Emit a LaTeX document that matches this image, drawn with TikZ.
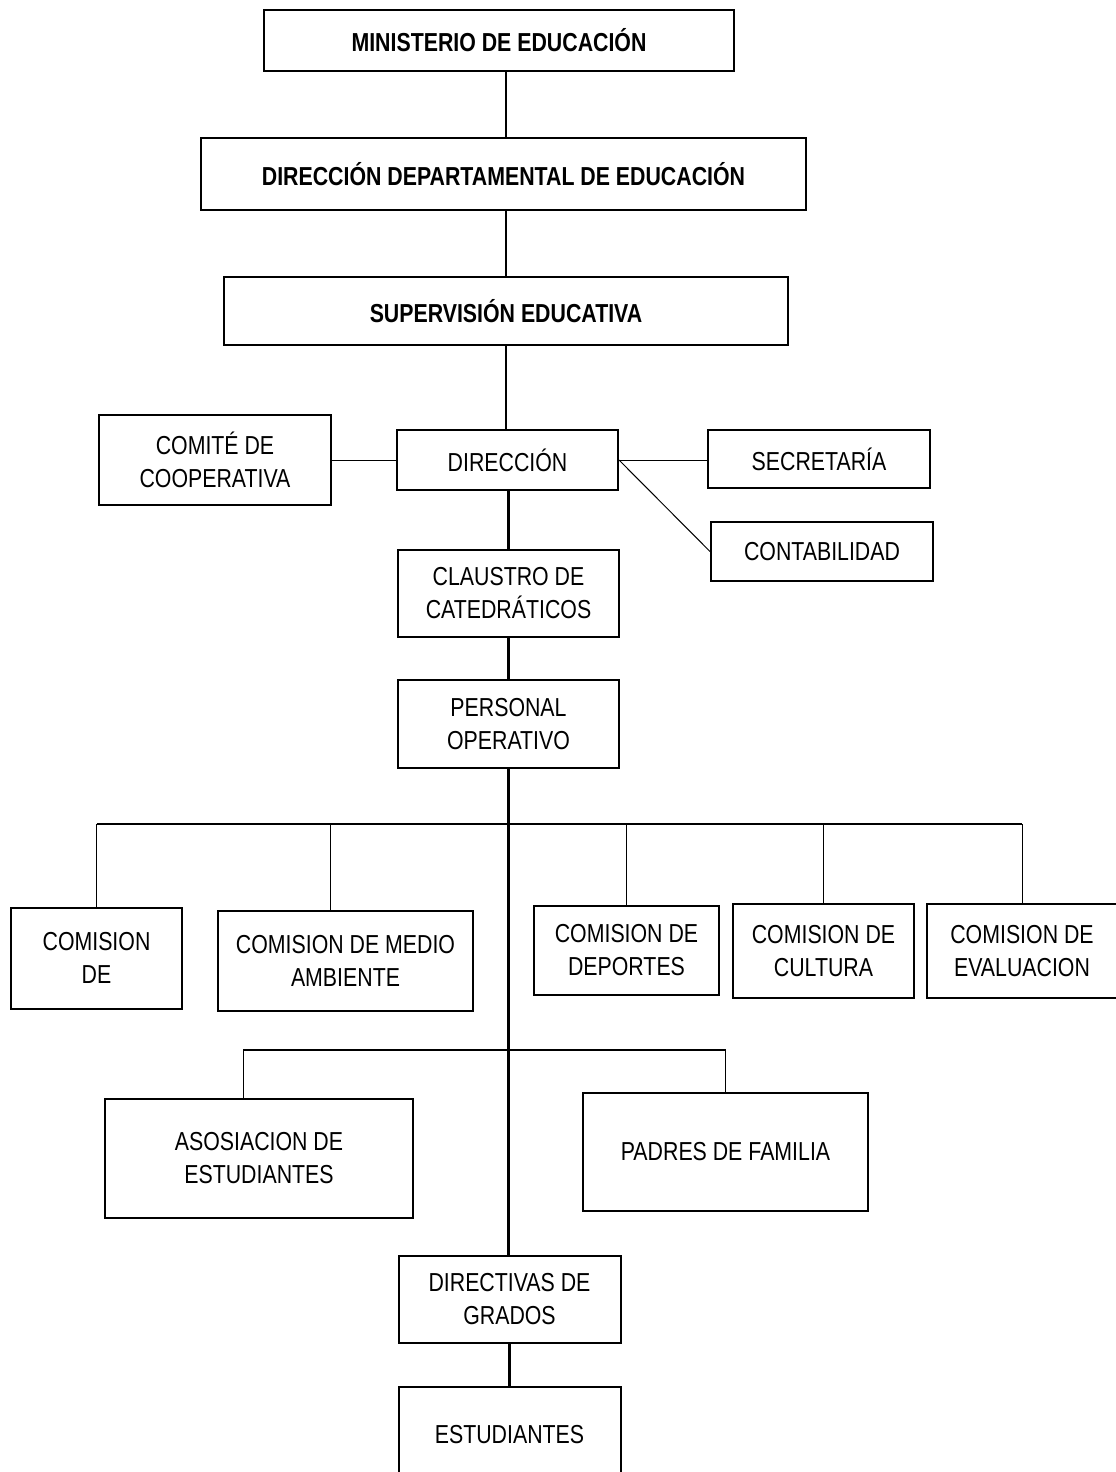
\documentclass[tikz,border=0pt]{standalone}
\usepackage{fontspec}
\setmainfont{Liberation Sans}[FakeStretch=0.82]
\usepackage{tikz}
\usetikzlibrary{positioning,calc}

\begin{document}
\begin{tikzpicture}[x=1pt,y=-1pt]
	%defines
	\tikzstyle{mainOffice} = [rectangle, draw=black, line width=2pt, inner sep=0pt, align=center, font=\fontsize{26}{32}\selectfont\bfseries]
	\tikzstyle{office} = [rectangle, draw=black, line width=2pt, inner sep=0pt, align=center, font=\fontsize{26}{33}\selectfont]
	\tikzstyle{commission} = [rectangle, draw=black, line width=2pt, inner sep=0pt, align=center, font=\fontsize{26}{33}\selectfont]
	\tikzstyle{trunkLine} = [line width=2.8pt]
	\tikzstyle{branchLine} = [line width=1pt]
	\useasboundingbox (0,0) rectangle (1116,1472);
	%chart
	\coordinate (trunk) at (506,0);
	\node (ministerio) [mainOffice, minimum width=470pt, minimum height=61pt] at (499,40.5) {MINISTERIO DE EDUCACIÓN};
	\node (dirDep) [mainOffice, minimum width=605pt, minimum height=72pt] at (503.5,174) {DIRECCIÓN DEPARTAMENTAL DE EDUCACIÓN};
	\node (supervision) [mainOffice, minimum width=564pt, minimum height=68pt] at (506,311) {SUPERVISIÓN EDUCATIVA};
	\node (comite) [office, minimum width=232pt, minimum height=90pt] at (215,460) {COMITÉ DE\\COOPERATIVA};
	\node (direccion) [office, minimum width=221pt, minimum height=60pt] at (507.5,460) {DIRECCIÓN};
	\node (secretaria) [office, minimum width=222pt, minimum height=58pt] at (819,459) {SECRETARÍA};
	\node (contabilidad) [office, minimum width=222pt, minimum height=59pt] at (822,551.5) {CONTABILIDAD};
	\node (claustro) [office, minimum width=221pt, minimum height=87pt] at (508.5,593.5) {CLAUSTRO DE\\CATEDRÁTICOS};
	\node (personal) [office, minimum width=221pt, minimum height=88pt] at (508.5,724) {PERSONAL\\OPERATIVO};
	\coordinate (busComisiones) at (507,824);
	\node (comDe) [commission, minimum width=171pt, minimum height=101pt] at (96.5,958) {COMISION\\DE};
	\node (comMedio) [commission, minimum width=255pt, minimum height=100pt] at (345.5,961) {COMISION DE MEDIO\\AMBIENTE};
	\node (comDeportes) [commission, minimum width=185pt, minimum height=89pt] at (626.5,950.5) {COMISION DE\\DEPORTES};
	\node (comCultura) [commission, minimum width=181pt, minimum height=94pt] at (823.5,951) {COMISION DE\\CULTURA};
	\node (comEvaluacion) [commission, minimum width=190pt, minimum height=94pt] at (1022,951) {COMISION DE\\EVALUACION};
	\coordinate (busPadres) at (507,1050);
	\node (asociacion) [office, minimum width=308pt, minimum height=119pt] at (259,1158.5) {ASOSIACION DE\\ESTUDIANTES};
	\node (padres) [office, minimum width=285pt, minimum height=118pt] at (725.5,1152) {PADRES DE FAMILIA};
	\node (directivas) [office, minimum width=222pt, minimum height=87pt] at (509.5,1299.5) {DIRECTIVAS DE\\GRADOS};
	\node (estudiantes) [office, minimum width=222pt, minimum height=96pt] at (509.5,1435) {ESTUDIANTES};
	% main line
	\draw [trunkLine] (ministerio.south -| trunk) -- (dirDep.north -| trunk);
	\draw [trunkLine] (dirDep.south -| trunk) -- (supervision.north -| trunk);
	\draw [trunkLine] (supervision.south -| trunk) -- (direccion.north -| trunk);
	\draw [trunkLine] (direccion.south -| claustro.north) -- (claustro.north);
	\draw [trunkLine] (claustro) -- (personal);
	\draw [trunkLine] (personal.south) -- (directivas.north -| personal.south);
	\draw [trunkLine] (directivas) -- (estudiantes);
	% side offices
	\draw [branchLine] (comite) -- (direccion);
	\draw [branchLine] (direccion.east) -- (direccion.east -| secretaria.west);
	\draw [branchLine] (direccion.east) -- (contabilidad.west);
	% comisiones
	\draw [trunkLine] (comDe.north |- busComisiones) -- (comEvaluacion.north |- busComisiones);
	\draw [branchLine] (comDe.north) -- (comDe.north |- busComisiones);
	\draw [branchLine] ([xshift=-15pt]comMedio.north) -- ([xshift=-15pt]comMedio.north |- busComisiones);
	\draw [branchLine] (comDeportes.north) -- (comDeportes.north |- busComisiones);
	\draw [branchLine] (comCultura.north) -- (comCultura.north |- busComisiones);
	\draw [branchLine] (comEvaluacion.north) -- (comEvaluacion.north |- busComisiones);
	% asociacion y padres
	\draw [trunkLine] ([xshift=-16pt]asociacion.north |- busPadres) -- (padres.north |- busPadres);
	\draw [branchLine] ([xshift=-16pt]asociacion.north) -- ([xshift=-16pt]asociacion.north |- busPadres);
	\draw [branchLine] (padres.north) -- (padres.north |- busPadres);
\end{tikzpicture}
\end{document}
